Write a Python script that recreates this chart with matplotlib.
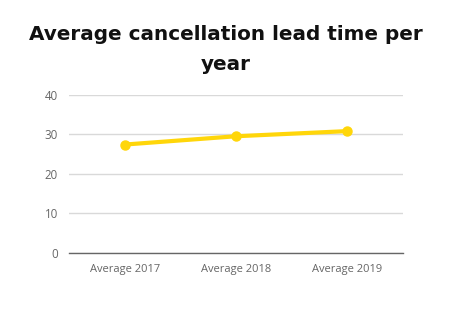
import matplotlib
matplotlib.use("Agg")
import matplotlib.pyplot as plt

# data
categories = ["Average 2017", "Average 2018", "Average 2019"]
lead_time = [27.4, 29.5, 30.8]
y_ticks = [0, 10, 20, 30, 40]
title_lines = ["Average cancellation lead time per", "year"]

W, H = 452, 322
fig = plt.figure(figsize=(W / 100, H / 100), dpi=100)
ax = fig.add_axes([69 / W, 1 - 253 / H, (403 - 69) / W, (253 - 94.7) / H])

x = list(range(len(categories)))
ax.plot(x, lead_time, color="#FFD60A", linewidth=3, marker="o", markersize=6.5,
        solid_capstyle="round", zorder=3)

ax.set_xlim(-0.5, len(categories) - 0.5)
ax.set_ylim(0, 40)
ax.set_yticks(y_ticks)
ax.set_xticks(x)
ax.set_xticklabels(categories)

ax.grid(axis="y", color="#d9d9d9", linewidth=1)
ax.set_axisbelow(True)
for side in ["top", "right", "left"]:
    ax.spines[side].set_visible(False)
ax.spines["bottom"].set_color("#666666")
ax.spines["bottom"].set_linewidth(1)
ax.tick_params(axis="y", length=0, labelsize=8.3, labelcolor="#666666", pad=8)
ax.tick_params(axis="x", length=0, labelsize=8, labelcolor="#666666", pad=8)
for lbl in ax.get_xticklabels() + ax.get_yticklabels():
    lbl.set_fontfamily("Open Sans")

# title drawn line by line to get the spacing right
baselines = [39.5, 70]
for line, yb in zip(title_lines, baselines):
    fig.text(0.5, 1 - yb / H, line, ha="center", va="baseline", fontsize=14.4,
             fontweight="bold", family="DejaVu Sans", color="#111111")

fig.savefig("out.png", dpi=100, facecolor="white")
